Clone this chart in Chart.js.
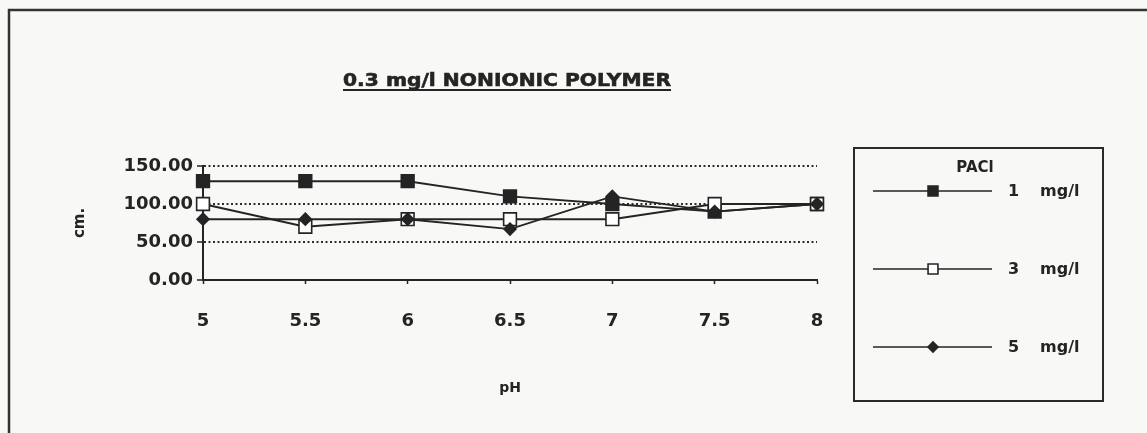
<!DOCTYPE html>
<html>
<head>
<meta charset="utf-8">
<script src="https://cdn.jsdelivr.net/npm/chart.js@4.4.1/dist/chart.umd.min.js"></script>
<style>
  html, body { margin: 0; padding: 0; background: #f8f8f6; }
  #wrap { width: 1147px; height: 433px; }
</style>
</head>
<body>
<div id="wrap"><canvas id="c" width="1147" height="433"></canvas></div>
<script>
// pH values along the x axis
const phLabels = ['5', '5.5', '6', '6.5', '7', '7.5', '8'];

// Measured results for each PACl dose (cm.)
const pacl1 = [130, 130, 130, 110, 100, 90, 100];
const pacl3 = [100, 70, 80, 80, 80, 100, 100];
const pacl5 = [80, 80, 80, 67, 110, 90, 100];

// Dose labels shown in the key
const doseLabels = ['1', '3', '5'];
const doseUnit = 'mg/l';

// Value axis ticks
const yTicks = [0, 50, 100, 150];

const chartTitle = '0.3 mg/l NONIONIC POLYMER';
const keyTitle = 'PACl';
const xTitle = 'pH';
const yTitle = 'cm.';

const INK = '#242424';
const FONT = "'DejaVu Sans', sans-serif";

// Outer frame, underlined title and the boxed key
const decorations = {
  id: 'decorations',
  beforeDraw(chart) {
    const ctx = chart.ctx;
    ctx.save();
    ctx.strokeStyle = '#333';
    ctx.lineWidth = 2.5;
    ctx.beginPath();
    ctx.moveTo(9, 433);
    ctx.lineTo(9, 10);
    ctx.lineTo(1147, 10);
    ctx.stroke();
    ctx.restore();
  },
  afterDraw(chart) {
    const ctx = chart.ctx;
    ctx.save();

    // Title, stretched to its printed width and underlined
    ctx.fillStyle = INK;
    ctx.strokeStyle = INK;
    ctx.font = 'bold 18px ' + FONT;
    ctx.textBaseline = 'middle';
    ctx.textAlign = 'left';
    const tw = ctx.measureText(chartTitle).width;
    const targetW = 328;
    const tx = 343;
    ctx.save();
    ctx.translate(tx, 81);
    ctx.scale(targetW / tw, 1);
    ctx.lineWidth = 0.6;
    ctx.fillText(chartTitle, 0, 0);
    ctx.strokeText(chartTitle, 0, 0);
    ctx.restore();
    ctx.lineWidth = 1.8;
    ctx.beginPath();
    ctx.moveTo(tx, 90);
    ctx.lineTo(tx + targetW, 90);
    ctx.stroke();

    // Key box
    const bx = 854, by = 148, bw = 249, bh = 253;
    ctx.lineWidth = 2;
    ctx.strokeStyle = '#2a2a2a';
    ctx.strokeRect(bx, by, bw, bh);

    ctx.font = 'bold 15px ' + FONT;
    ctx.textAlign = 'center';
    ctx.fillText(keyTitle, 975, 168);

    const rows = [191, 269, 347];
    chart.data.datasets.forEach((ds, i) => {
      const y = rows[i];
      ctx.strokeStyle = ds.borderColor;
      ctx.lineWidth = 1.7;
      ctx.beginPath();
      ctx.moveTo(873, y);
      ctx.lineTo(992, y);
      ctx.stroke();
      ctx.fillStyle = ds.pointBackgroundColor;
      ctx.strokeStyle = ds.pointBorderColor;
      ctx.lineWidth = ds.pointBorderWidth;
      Chart.helpers.drawPoint(ctx, {
        pointStyle: ds.pointStyle,
        radius: ds.pointStyle === 'rectRot' ? 5 : 7,
        borderWidth: ds.pointBorderWidth
      }, 933, y);
      ctx.fillStyle = INK;
      ctx.font = 'bold 16px ' + FONT;
      ctx.textAlign = 'left';
      ctx.fillText(doseLabels[i], 1008, y + 1);
      ctx.fillText(doseUnit, 1040, y + 1);
    });
    ctx.restore();
  }
};

function series(label, values, style, fill, radius, order) {
  return {
    label: label + ' ' + doseUnit,
    data: values,
    order: order,
    borderColor: INK,
    borderWidth: 1.9,
    pointStyle: style,
    pointRadius: radius,
    pointHoverRadius: radius,
    pointBackgroundColor: fill,
    pointBorderColor: INK,
    pointBorderWidth: 1.6,
    tension: 0,
    fill: false,
    clip: false
  };
}

new Chart(document.getElementById('c'), {
  type: 'line',
  data: {
    labels: phLabels,
    datasets: [
      series(doseLabels[0], pacl1, 'rect', INK, 9, 3),
      series(doseLabels[1], pacl3, 'rect', '#ffffff', 9, 2),
      series(doseLabels[2], pacl5, 'rectRot', INK, 6, 1)
    ]
  },
  options: {
    responsive: false,
    animation: false,
    devicePixelRatio: 1,
    layout: { padding: { left: 0, top: 166, right: 330, bottom: 33 } },
    plugins: {
      legend: { display: false },
      title: { display: false },
      tooltip: { enabled: false }
    },
    scales: {
      x: {
        type: 'category',
        offset: false,
        grid: {
          drawOnChartArea: false,
          tickLength: 4,
          tickColor: INK,
          tickWidth: 1.5
        },
        border: { color: INK, width: 2 },
        ticks: {
          color: INK,
          padding: 27,
          maxRotation: 0,
          font: { family: FONT, size: 18, weight: 'bold' }
        },
        title: {
          display: true,
          text: xTitle,
          color: INK,
          padding: { top: 0, bottom: 3 },
          font: { family: FONT, size: 14, weight: 'bold' }
        },
        afterFit(scale) { scale.height = 120; }
      },
      y: {
        min: 0,
        max: 150,
        afterBuildTicks(scale) { scale.ticks = yTicks.map(v => ({ value: v })); },
        grid: {
          color: '#2e2e2e',
          lineWidth: 2,
          tickBorderDash: [],
          tickColor: INK,
          tickLength: 6,
          tickWidth: 1.5
        },
        border: { color: INK, width: 2, dash: [2, 2.5] },
        ticks: {
          color: INK,
          padding: 4,
          font: { family: FONT, size: 18, weight: 'bold' },
          callback: v => Number(v).toFixed(2)
        },
        title: {
          display: true,
          text: yTitle,
          color: INK,
          padding: { top: 71, bottom: 0 },
          font: { family: FONT, size: 15, weight: 'bold' }
        },
        afterFit(scale) { scale.width = 203; }
      }
    }
  },
  plugins: [decorations]
});
</script>
</body>
</html>
